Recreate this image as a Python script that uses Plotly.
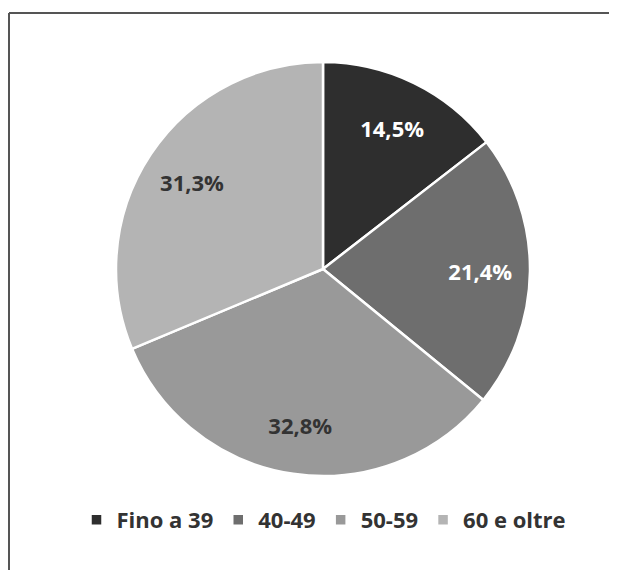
import plotly.graph_objects as go

categories = ["Fino a 39", "40-49", "50-59", "60 e oltre"]
values = [14.5, 21.4, 32.8, 31.3]
colors = ["#2e2e2e", "#6e6e6e", "#999999", "#b4b4b4"]
text_colors = ["#ffffff", "#ffffff", "#333333", "#333333"]

W, H = 617, 570
OFF = 8  # page body margin offset
domain = dict(x=[(115 - OFF) / W, (531 - OFF) / W],
              y=[1 - (476 - OFF) / H, 1 - (62 - OFF) / H])

fig = go.Figure()
# slices
fig.add_trace(go.Pie(
    labels=categories,
    values=values,
    sort=False,
    direction="clockwise",
    rotation=0,
    marker=dict(colors=colors, line=dict(color="white", width=2.5)),
    textinfo="none",
    hoverinfo="label+value",
    domain=domain,
))
# transparent ring carrying the labels further out (as in the original)
fig.add_trace(go.Pie(
    labels=categories,
    values=values,
    sort=False,
    direction="clockwise",
    rotation=0,
    hole=0.52,
    marker=dict(colors=["rgba(0,0,0,0)"] * len(values), line=dict(width=0)),
    texttemplate="%{value:.1f}%",
    textposition="inside",
    insidetextorientation="horizontal",
    insidetextfont=dict(color=text_colors, size=22, family="Open Sans", weight="bold"),
    hoverinfo="skip",
    showlegend=False,
    domain=domain,
))

fig.update_layout(
    width=W, height=H,
    margin=dict(l=0, r=0, t=0, b=0),
    paper_bgcolor="white",
    separators=",.",
    showlegend=True,
    legend=dict(
        orientation="h",
        x=(324 - OFF) / W, xanchor="center",
        y=1 - (520 - OFF) / H, yanchor="middle",
        font=dict(family="Open Sans", size=22, color="#333333", weight="bold"),
        itemwidth=30,
        tracegroupgap=0,
    ),
    shapes=[
        dict(type="line", xref="paper", yref="paper", x0=(9 - OFF) / W, x1=1.02,
             y0=1 - (13 - OFF) / H, y1=1 - (13 - OFF) / H,
             line=dict(color="#555555", width=2)),
        dict(type="line", xref="paper", yref="paper", x0=(9 - OFF) / W, x1=(9 - OFF) / W,
             y0=1 - (13 - OFF) / H, y1=-0.02,
             line=dict(color="#555555", width=2)),
    ],
)

fig.write_html("out.html")
